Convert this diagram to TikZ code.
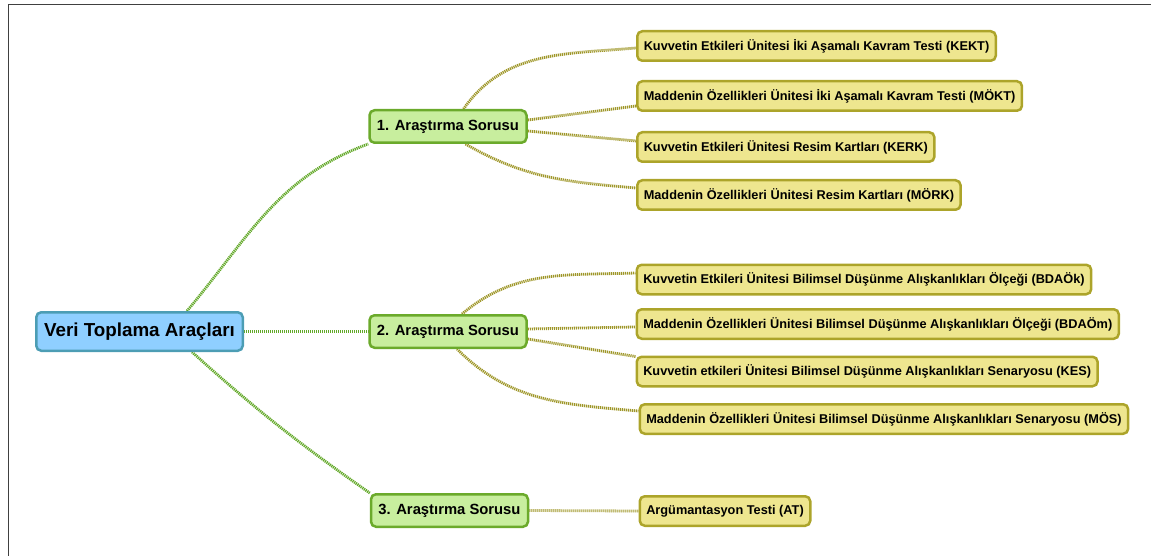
\documentclass[tikz,border=0pt]{standalone}
\usepackage{fontspec}
\setmainfont{Liberation Sans}
\usetikzlibrary{positioning,backgrounds}
\definecolor{rootfill}{HTML}{8FCFFF}
\definecolor{rootdraw}{HTML}{4C9DB4}
\definecolor{questfill}{HTML}{C8EE9E}
\definecolor{questdraw}{HTML}{6BAA2B}
\definecolor{toolfill}{HTML}{EEE68F}
\definecolor{tooldraw}{HTML}{ACA42A}
\definecolor{questlink}{HTML}{62A828}
\definecolor{toollink}{HTML}{9E9628}
\begin{document}
\begin{tikzpicture}[x=1pt,y=1pt]
    \tikzstyle{main} = [draw=rootdraw, fill=rootfill, line width=2.5pt, rounded corners=5pt, minimum width=206.5pt, minimum height=38.5pt, font=\fontsize{18.8}{21}\selectfont\bfseries]
    \tikzstyle{quest} = [draw=questdraw, fill=questfill, line width=2.5pt, rounded corners=5pt, minimum width=157pt, minimum height=32.5pt, font=\fontsize{14.8}{17}\selectfont\bfseries]
    \tikzstyle{tool} = [draw=tooldraw, fill=toolfill, line width=2.5pt, rounded corners=5pt, inner xsep=6.5pt, minimum height=29.5pt, font=\fontsize{12.75}{15}\selectfont\bfseries]
    \tikzstyle{qlink} = [draw=questlink, line width=2.8pt, dash pattern=on 1.2pt off 0.8pt]
    \tikzstyle{tlink} = [draw=toollink, line width=2.8pt, dash pattern=on 1.2pt off 0.8pt]
        \useasboundingbox (0,0) rectangle (1151,-556);
        \draw[line width=1.5pt, black!75] (8.5,-556) -- (8.5,-4.5) -- (1151,-4.5);
        \node[main] (root) at (139.5,-331.5) {Veri Toplama Araçları};
        % level 1
        \node[quest,xshift=308.5pt,yshift=205pt] (q1) at (root) {1. Araştırma Sorusu};
        \node[quest,xshift=308.5pt] (q2) at (root) {2. Araştırma Sorusu};
        \node[quest,xshift=310pt,yshift=-179pt] (q3) at (root) {3. Araştırma Sorusu};
        % level 2
        \node[tool,right=108.25pt,yshift=80.5pt] (kekt) at (q1.east) {Kuvvetin Etkileri Ünitesi İki Aşamalı Kavram Testi (KEKT)};
        \node[tool,right=108.25pt,yshift=30.5pt] (mokt) at (q1.east) {Maddenin Özellikleri Ünitesi İki Aşamalı Kavram Testi (MÖKT)};
        \node[tool,right=108.25pt,yshift=-20.5pt] (kerk) at (q1.east) {Kuvvetin Etkileri Ünitesi Resim Kartları (KERK)};
        \node[tool,right=108.25pt,yshift=-68.5pt] (mork) at (q1.east) {Maddenin Özellikleri Ünitesi Resim Kartları (MÖRK)};
        \node[tool,right=107.75pt,yshift=52pt] (bdaok) at (q2.east) {Kuvvetin Etkileri Ünitesi Bilimsel Düşünme Alışkanlıkları Ölçeği (BDAÖk)};
        \node[tool,right=107.75pt,yshift=7.5pt] (bdaom) at (q2.east) {Maddenin Özellikleri Ünitesi Bilimsel Düşünme Alışkanlıkları Ölçeği (BDAÖm)};
        \node[tool,right=107.75pt,yshift=-40pt] (kes) at (q2.east) {Kuvvetin etkileri Ünitesi Bilimsel Düşünme Alışkanlıkları Senaryosu (KES)};
        \node[tool,right=110.75pt,yshift=-87.5pt] (mos) at (q2.east) {Maddenin Özellikleri Ünitesi Bilimsel Düşünme Alışkanlıkları Senaryosu (MÖS)};
        \node[tool,right=109.25pt,yshift=-0.5pt] (arg) at (q3.east) {Argümantasyon Testi (AT)};
        %%% links
        \begin{scope}[on background layer]
        % root
        \draw[qlink] ([xshift=47.5pt]root.north) to[out=50,in=200] (q1.south west);
        \draw[qlink] (root.east) -- (q2.west);
        \draw[qlink] ([xshift=52.5pt]root.south) to[out=-42,in=145] (q3.north west);
        % first question
        \draw[tlink] ([xshift=15.5pt]q1.north) to[out=55,in=185] ([yshift=-2pt]kekt.west);
        \draw[tlink] ([yshift=6.5pt]q1.east) -- ([yshift=-10pt]mokt.west);
        \draw[tlink] ([yshift=-4.5pt]q1.east) -- ([yshift=6pt]kerk.west);
        \draw[tlink] ([xshift=17.5pt]q1.south) to[out=-30,in=175] ([yshift=7pt]mork.west);
        % second question
        \draw[tlink] ([xshift=14pt]q2.north) to[out=40,in=182] ([yshift=6.5pt]bdaok.west);
        \draw[tlink] ([yshift=2.5pt]q2.east) -- ([yshift=-3pt]bdaom.west);
        \draw[tlink] ([yshift=-7.5pt]q2.east) -- ([yshift=15pt]kes.west);
        \draw[tlink] ([xshift=9pt]q2.south) to[out=-45,in=175] ([yshift=8pt]mos.west);
        % third question
        \draw[tlink] (q3.east) -- (arg.west);
        \end{scope}
    \end{tikzpicture}
\end{document}
